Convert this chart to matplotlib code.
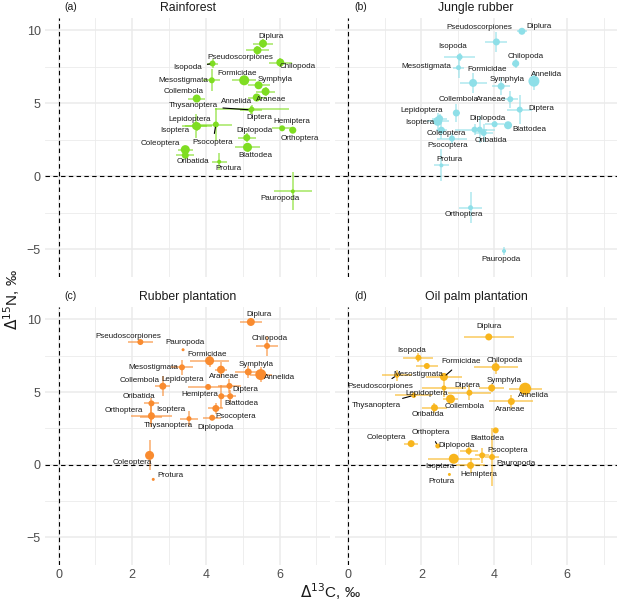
import numpy as np
import matplotlib
matplotlib.use("Agg")
import matplotlib.pyplot as plt

plt.rcParams['font.family'] = ['Liberation Sans', 'DejaVu Sans']

# taxa shared by all four land-use systems
taxa = ['Annelida', 'Araneae', 'Blattodea', 'Chilopoda', 'Coleoptera', 'Collembola',
        'Diplopoda', 'Diplura', 'Diptera', 'Formicidae', 'Hemiptera', 'Isopoda',
        'Isoptera', 'Lepidoptera', 'Mesostigmata', 'Oribatida', 'Orthoptera',
        'Pauropoda', 'Protura', 'Pseudoscorpiones', 'Psocoptera', 'Symphyla',
        'Thysanoptera']

nan = np.nan

# (a) Rainforest
rf_d13c = [5.38, 5.62, 5.13, 6.02, 3.44, 3.75, 5.11, 5.55, 5.25, 5.04, 6.07, 4.18,
           3.73, 3.76, 4.16, 3.44, 6.36, 6.36, 4.36, 5.40, 4.27, 5.43, 5.22]
rf_d15n = [5.40, 5.81, 1.99, 7.80, 1.83, 5.33, 2.65, 9.10, 4.60, 6.58, 3.29, 7.73,
           3.45, 3.43, 6.58, 1.44, 3.16, -1.03, 1.00, 8.64, 3.55, 6.24, 4.55]
rf_se13 = [0.25, 0.25, 0.35, 0.32, 0.20, 0.23, 0.25, 0.27, 1.00, 0.32, 0.27, 0.15,
           0.30, 0.40, 0.23, 0.25, 0.10, 0.52, 0.20, 0.30, 0.45, 0.30, 0.30]
rf_se15 = [0.20, 0.30, 0.30, 0.30, 0.20, 0.25, 0.30, 0.30, 0.30, 0.20, 0.15, 0.30,
           0.85, 0.30, 0.75, 0.20, 0.10, 1.30, 0.60, 0.30, 1.10, 0.25, 0.30]
rf_size = [8, 8, 9, 8, 9, 8, 7, 8, 5, 10, 6, 6, 8, 8, 6, 7, 7, 4, 4, 8, 6, 8, 5]

# (b) Jungle rubber
jr_d13c = [5.09, 4.44, 4.38, 4.59, 2.55, 2.96, 4.01, 4.76, 4.70, 3.42, 3.60, 3.05,
           2.45, 2.50, 3.02, 3.71, 3.35, 4.27, 2.55, 4.06, 2.84, 4.19, 3.46]
jr_d15n = [6.52, 5.28, 3.50, 7.73, 3.16, 4.34, 3.57, 9.94, 4.57, 6.40, 3.20, 8.18,
           3.77, 3.96, 7.45, 2.97, -2.15, -5.12, 0.75, 9.21, 2.59, 6.17, 3.20]
jr_se13 = [0.10, 0.20, 0.10, 0.10, 0.15, 0.10, 0.25, 0.14, 0.34, 0.37, 0.20, 0.43,
           0.30, 0.20, 0.15, 0.25, 0.32, 0.05, 0.20, 0.30, 0.40, 0.25, 0.55]
jr_se15 = [0.60, 0.60, 0.20, 0.30, 0.60, 0.60, 0.20, 0.10, 0.97, 0.70, 0.90, 0.30,
           0.60, 0.30, 0.74, 0.60, 1.06, 0.30, 1.10, 0.70, 0.40, 0.60, 0.40]
jr_size = [11, 6, 8, 7, 7, 7, 6, 7, 6, 8, 6, 6, 9, 7, 5, 6, 5, 4, 4, 7, 6, 7, 6]

# (c) Rubber plantation (no Isopoda)
rp_d13c = [5.49, 4.41, 4.66, 5.66, 2.47, 2.83, 4.17, 5.22, 4.64, 4.10, 4.42, nan,
           2.52, 4.06, 3.35, 2.52, 2.52, 3.38, 2.57, 2.22, 4.27, 5.15, 3.54]
rp_d15n = [6.20, 6.54, 4.71, 8.17, 0.64, 5.40, 3.23, 9.82, 5.42, 7.15, 4.71, nan,
           3.30, 5.35, 6.70, 4.22, 3.37, 7.91, -1.01, 8.44, 3.87, 6.38, 3.17]
rp_se13 = [0.30, 0.15, 0.15, 0.30, 0.10, 0.20, 0.25, 0.30, 0.30, 0.52, 0.10, nan,
           0.30, 0.55, 0.30, 0.20, 0.55, 0.00, 0.00, 0.33, 0.20, 0.35, 0.25]
rp_se15 = [0.50, 0.50, 0.40, 0.70, 1.03, 0.70, 0.15, 0.10, 0.50, 0.40, 0.80, nan,
           0.50, 0.10, 0.50, 0.40, 0.80, 0.00, 0.00, 0.10, 0.40, 0.40, 0.50]
rp_size = [11, 8, 6, 6, 9, 7, 6, 8, 6, 9, 6, 0, 6, 6, 6, 6, 7, 3, 3, 6, 7, 7, 5]

# (d) Oil palm plantation
op_d13c = [4.85, 4.47, 4.04, 4.04, 1.72, 2.80, 3.30, 3.85, 3.32, 2.62, 3.35, 1.92,
           2.89, 2.62, 2.15, 2.36, 2.45, 3.94, 2.77, 1.33, 3.67, 3.93, 1.79]
op_d15n = [5.23, 4.35, 2.36, 6.71, 1.45, 4.52, 0.94, 8.79, 4.95, 6.04, -0.05, 7.36,
           0.41, 5.28, 6.79, 3.92, 1.29, 0.53, -0.67, 6.15, 0.64, 5.28, 4.77]
op_se13 = [0.45, 0.60, 0.05, 0.60, 0.20, 0.20, 0.25, 0.68, 0.60, 0.50, 0.40, 0.41,
           0.72, 0.60, 0.30, 0.35, 0.05, 0.20, 0.00, 0.41, 0.20, 0.35, 0.50]
op_se15 = [0.40, 0.45, 0.10, 0.50, 0.15, 0.20, 0.30, 0.10, 0.50, 0.30, 0.50, 0.30,
           0.30, 0.60, 0.20, 0.35, 0.10, 2.00, 0.00, 0.40, 0.50, 0.30, 0.20]
op_size = [12, 7, 6, 8, 7, 9, 6, 7, 6, 8, 7, 6, 10, 5, 6, 7, 5, 6, 3, 5, 6, 7, 5]

titles = ['Rainforest', 'Jungle rubber', 'Rubber plantation', 'Oil palm plantation']
tags = ['(a)', '(b)', '(c)', '(d)']
colors = ['#7FDD22', '#8EDFE8', '#F98B2F', '#F8B51C']

# label offsets in pixels (dx, dy up) -- placed like the repelled labels
offs_a = {'Diplura': (8, 7), 'Pseudoscorpiones': (-17, -7), 'Chilopoda': (17, -4),
          'Isopoda': (-25, -4), 'Mesostigmata': (-28, 0), 'Formicidae': (-7, 7),
          'Symphyla': (17, 6), 'Araneae': (6, -8), 'Annelida': (-20, -4),
          'Thysanoptera': (-58, 4), 'Diptera': (7, -8), 'Collembola': (-13, 7),
          'Lepidoptera': (-7, 7), 'Isoptera': (-21, -5), 'Psocoptera': (-3, -18),
          'Hemiptera': (10, 7), 'Orthoptera': (7, -8), 'Diplopoda': (8, 7),
          'Blattodea': (8, -8), 'Coleoptera': (-25, 6), 'Oribatida': (8, -6),
          'Protura': (9, -7), 'Pauropoda': (-13, -7)}
offs_b = {'Diplura': (17, 5), 'Pseudoscorpiones': (-17, 14), 'Isopoda': (-7, 10),
          'Mesostigmata': (-32, 1), 'Formicidae': (14, 13), 'Chilopoda': (10, 7),
          'Annelida': (13, 7), 'Symphyla': (6, 7), 'Araneae': (-19, 0),
          'Diptera': (22, 1), 'Collembola': (2, 13), 'Lepidoptera': (-18, 8),
          'Isoptera': (-18, -1), 'Coleoptera': (5, -3), 'Psocoptera': (-4, -7),
          'Diplopoda': (-7, 6), 'Blattodea': (21, -4), 'Oribatida': (7, -8),
          'Protura': (8, 6), 'Orthoptera': (-7, -7), 'Pauropoda': (-3, -8)}
offs_c = {'Diplura': (8, 7), 'Pseudoscorpiones': (-12, 6), 'Pauropoda': (2, 7),
          'Chilopoda': (3, 7), 'Formicidae': (-2, 6), 'Mesostigmata': (-29, 0),
          'Araneae': (3, -7), 'Symphyla': (8, 7), 'Annelida': (19, -3),
          'Collembola': (-23, 6), 'Lepidoptera': (-25, 7), 'Diptera': (16, -4),
          'Hemiptera': (-22, 2), 'Blattodea': (11, -7), 'Oribatida': (-12, 7),
          'Psocoptera': (20, -8), 'Orthoptera': (-28, 5), 'Isoptera': (19, 7),
          'Thysanoptera': (-21, -7), 'Diplopoda': (3, -10), 'Coleoptera': (-17, -7),
          'Protura': (17, 4)}
offs_d = {'Diplura': (0, 10), 'Isopoda': (-7, 7), 'Formicidae': (17, 15),
          'Chilopoda': (9, 7), 'Mesostigmata': (-9, -8), 'Pseudoscorpiones': (-17, -11),
          'Symphyla': (12, 7), 'Diptera': (-2, 7), 'Lepidoptera': (-17, -6),
          'Annelida': (8, -7), 'Thysanoptera': (-37, -10), 'Collembola': (14, -7),
          'Araneae': (-1, -8), 'Oribatida': (-7, -7), 'Orthoptera': (-7, 13),
          'Coleoptera': (-25, 6), 'Blattodea': (-8, -8), 'Diplopoda': (-12, 6),
          'Psocoptera': (25, 5), 'Pauropoda': (24, -6), 'Isoptera': (-14, -8),
          'Hemiptera': (8, -9), 'Protura': (-8, -7)}
segs = [{'Isopoda', 'Thysanoptera', 'Psocoptera'}, set(), set(),
        {'Formicidae', 'Pseudoscorpiones', 'Thysanoptera', 'Orthoptera'}]

panels = [(rf_d13c, rf_d15n, rf_se13, rf_se15, rf_size, offs_a),
          (jr_d13c, jr_d15n, jr_se13, jr_se15, jr_size, offs_b),
          (rp_d13c, rp_d15n, rp_se13, rp_se15, rp_size, offs_c),
          (op_d13c, op_d15n, op_se13, op_se15, op_size, offs_d)]

fig = plt.figure(figsize=(6.17, 6.07), dpi=100)
W, H = 617, 607
boxes = [(45, 18, 285, 259), (335, 18, 282, 259),
         (45, 307, 285, 258), (335, 307, 282, 258)]

for i, (x, y, sx, sy, sz, offs) in enumerate(panels):
    l, t, w, h = boxes[i]
    ax = fig.add_axes([l / W, 1 - (t + h) / H, w / W, h / H])
    x = np.array(x); y = np.array(y)
    sx = np.array(sx); sy = np.array(sy)
    ok = ~np.isnan(x)
    col = colors[i]

    ax.errorbar(x[ok], y[ok], xerr=sx[ok], yerr=sy[ok], fmt='none', ecolor=col,
                elinewidth=1.3, alpha=0.6, capsize=0, zorder=3)
    s = (np.array(sz, dtype=float)[ok] * 0.72) ** 2
    ax.scatter(x[ok], y[ok], s=s, color=col, edgecolor='none', zorder=4)

    for k, name in enumerate(taxa):
        if not ok[k] or name not in offs:
            continue
        dx, dy = offs[name]
        arrow = None
        if name in segs[i]:
            arrow = dict(arrowstyle='-', color='black', lw=0.8, shrinkA=2, shrinkB=2)
        ax.annotate(name, (x[k], y[k]), xytext=(dx, dy), textcoords='offset pixels',
                    ha='center', va='center', fontsize=5.8, color='#1a1a1a',
                    arrowprops=arrow, zorder=5)

    ax.axhline(0, color='black', lw=0.8, ls=(0, (4, 3)), zorder=2)
    ax.axvline(0, color='black', lw=0.8, ls=(0, (4, 3)), zorder=2)

    ax.set_xlim(-0.37, 7.37)
    ax.set_ylim(-6.9, 10.85)
    ax.set_xticks([0, 2, 4, 6])
    ax.set_xticks([1, 3, 5, 7], minor=True)
    ax.set_yticks([-5, 0, 5, 10])
    ax.set_yticks([-2.5, 2.5, 7.5], minor=True)
    ax.grid(which='major', color='#EBEBEB', lw=1.1, zorder=0)
    ax.grid(which='minor', color='#EBEBEB', lw=0.6, zorder=0)
    ax.set_axisbelow(True)
    for sp in ax.spines.values():
        sp.set_visible(False)
    ax.tick_params(which='both', length=0, labelsize=9, labelcolor='#4D4D4D', pad=3)
    if i % 2 == 1:
        ax.tick_params(axis='y', labelleft=False)
    if i < 2:
        ax.tick_params(axis='x', labelbottom=False)

    ax.set_title(titles[i], fontsize=8.8, pad=5, color='#1a1a1a')
    ax.text(0.09, 1.022, tags[i], transform=ax.transAxes, fontsize=7.5,
            ha='center', va='bottom', color='#1a1a1a')

fig.text(330 / W, 1 - 592 / H, r'$\Delta^{13}$C, ‰', ha='center', va='center',
         fontsize=11, color='#1a1a1a')
fig.text(12 / W, 1 - 300 / H, r'$\Delta^{15}$N, ‰', ha='center', va='center',
         rotation=90, fontsize=11, color='#1a1a1a')

fig.savefig('out.png', dpi=100)
